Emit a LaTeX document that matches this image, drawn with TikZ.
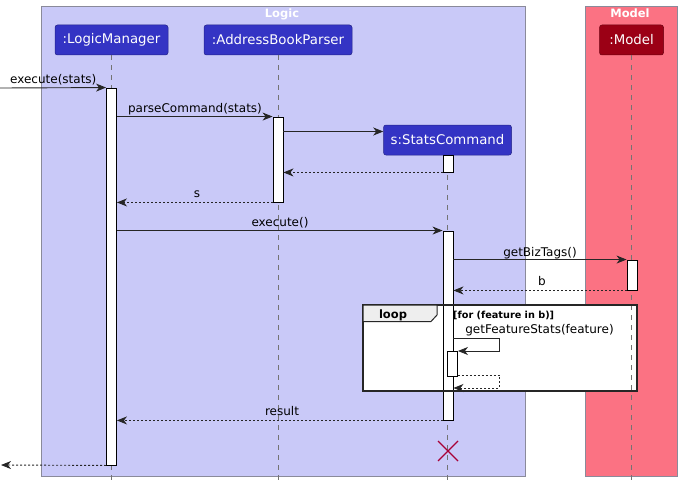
\documentclass[tikz,border=0pt]{standalone}
\usepackage{fontspec}
\setmainfont{DejaVu Sans}
\usetikzlibrary{arrows.meta,calc}
\definecolor{logicbg}{HTML}{C9C9F8}
\definecolor{modelbg}{HTML}{FB7283}
\definecolor{boxline}{HTML}{8A8A9A}
\definecolor{partblue}{HTML}{3434C4}
\definecolor{partred}{HTML}{9B0015}
\definecolor{xred}{HTML}{A80036}
\definecolor{tabgray}{HTML}{EEEEEE}
\tikzset{
  grpbox/.style={draw=boxline, line width=0.8pt},
  grptitle/.style={text=white, font=\bfseries\fontsize{11.5}{13}\selectfont, inner sep=0, anchor=base},
  participant/.style={draw=partblue!70!black, line width=0.5pt, fill=partblue, rounded corners=2.5pt, text=white,
    font=\fontsize{13.3}{15}\selectfont, minimum height=30pt, inner sep=0},
  act/.style={draw=black, fill=white, line width=0.9pt, minimum width=10pt, inner sep=0},
  msg/.style={-{Stealth[length=10pt,width=8pt,inset=3pt]}, line width=0.9pt, black!85},
  ret/.style={msg, dash pattern=on 2pt off 2pt},
  lifeline/.style={draw=black!55, dash pattern=on 5pt off 5pt, line width=0.8pt},
  lbl/.style={font=\fontsize{12}{14}\selectfont, inner sep=0, anchor=base},
  framelbl/.style={font=\bfseries\fontsize{9.7}{11}\selectfont, inner sep=0, anchor=base west},
}
\begin{document}
\begin{tikzpicture}[x=1pt,y=-1pt]
\useasboundingbox (0,0) rectangle (682,487);
% groups
\draw[grpbox, fill=logicbg] (41,6) rectangle (525,476);
\draw[grpbox, fill=modelbg] (585,6) rectangle (677,476);
\node[grptitle] (tLogic) at (282,18) {Logic};
\node[grptitle] (tModel) at (630,18) {Model};
% participants
\node[participant, minimum width=113pt] (lm) at (111.5,40) {:LogicManager};
\node[participant, minimum width=148pt] (abp) at (278,40) {:AddressBookParser};
\node[participant, fill=partred, draw=partred!70!black, minimum width=64pt] (mod) at (631.5,40) {:Model};
\node[participant, minimum width=128pt] (sc) at (447.5,140) {s:StatsCommand};
% loop frame fill
\fill[white] (363,305) rectangle (637,391);
% lifelines
\draw[lifeline] (lm.south) -- (lm.south |- 0,483);
\draw[lifeline] (abp.south) -- (abp.south |- 0,483);
\draw[lifeline] (mod.south) -- (mod.south |- 0,483);
\draw[lifeline] (sc.south) -- (sc.south |- 0,483);
% activations
\node[act, minimum height=377pt] (aLM) at (111.5,276.5) {};
\node[act, minimum height=85pt] (aABP) at (278,159.5) {};
\node[act, minimum height=17pt] (aSC1) at (448,163.5) {};
\node[act, minimum height=189pt] (aSC2) at (448,325.5) {};
\node[act, minimum height=30pt] (aM) at (632,275) {};
\node[act, minimum height=25pt] (aSC3) at (452.5,363.5) {};
% messages
\coordinate (inL) at (0,88);
\draw[msg] (inL) -- (aLM.north west);
\node[lbl, anchor=base west] (l1) at (10,83) {execute(stats)};
\draw[msg] (aLM.east |- aABP.north) -- (aABP.north west);
\node[lbl] (l2) at (195,112) {parseCommand(stats)};
\draw[msg] (aABP.east |- 0,131.5) -- (sc.west |- 0,131.5);
\draw[ret] (aSC1.south west) -- (aABP.east |- aSC1.south);
\draw[ret] (aABP.south west) -- (aLM.east |- aABP.south);
\node[lbl] (l3) at (197,197) {s};
\draw[msg] (aLM.east |- aSC2.north) -- (aSC2.north west);
\node[lbl] (l4) at (280,226) {execute()};
\draw[msg] (aSC2.east |- aM.north) -- (aM.north west);
\node[lbl] (l5) at (540,256) {getBizTags()};
\draw[ret] (aM.south west) -- (aSC2.east |- aM.south);
\node[lbl] (l6) at (542,285) {b};
\coordinate (selfA) at (499.5,338);
\coordinate (selfB) at (499.5,351);
\draw[msg] (aSC2.east |- selfA) -- (selfA) -- (selfB) -- (aSC3.east |- selfB);
\node[lbl] (l7) at (539.5,333) {getFeatureStats(feature)};
\coordinate (selfC) at (499.5,375);
\coordinate (selfD) at (499.5,388);
\draw[ret] (aSC3.east |- selfC) -- (selfC) -- (selfD) -- (aSC2.east |- selfD);
\draw[ret] (aSC2.south west) -- (aLM.east |- aSC2.south);
\node[lbl] (l8) at (282,415) {result};
\coordinate (outL) at (1,465);
\draw[ret] (aLM.south west) -- (outL);
% loop frame
\draw[line width=1.5pt, black!85] (363,305) rectangle (637,391);
\draw[line width=1pt, black!85, fill=tabgray] (363,305) -- (437,305) -- (437,315) -- (431,321.5) -- (363,321.5) -- cycle;
\node[font=\bfseries\fontsize{11.5}{13}\selectfont, inner sep=0, anchor=base] (loopl) at (393,318.5) {loop};
\node[framelbl] (guard) at (453,318) {[for (feature in b)]};
% destroy
\draw[xred, line width=1.3pt] (438,441) -- (458,461) (438,461) -- (458,441);
\end{tikzpicture}
\end{document}
